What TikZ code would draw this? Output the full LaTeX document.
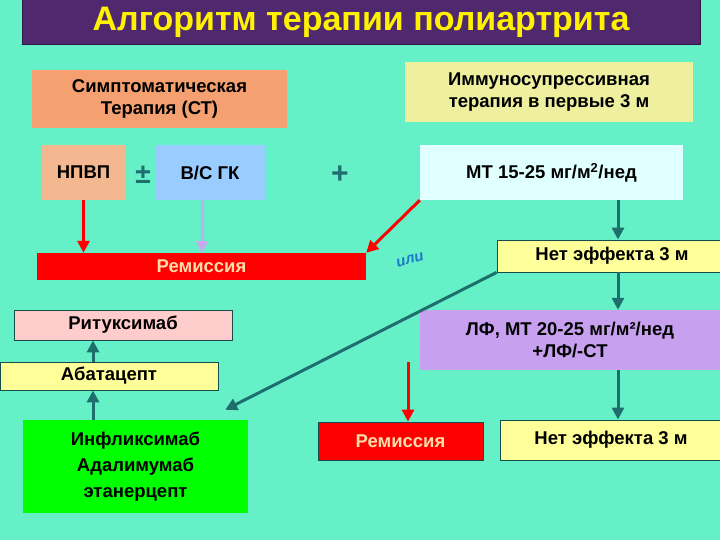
\documentclass[tikz,border=0pt]{standalone}
\usepackage{fontspec}
\setmainfont{Liberation Sans}
\usetikzlibrary{calc,arrows.meta}
\definecolor{bg}{RGB}{102,240,200}
\definecolor{teal}{RGB}{30,110,110}
\definecolor{ttl}{RGB}{80,40,110}
\definecolor{lav}{RGB}{200,170,240}
\tikzset{
 bx/.style={inner sep=0pt,align=center,font=\bfseries\fontsize{18.5}{22}\selectfont},
 ln/.style={bx,draw=teal!70!black,line width=0.8pt},
 ar/.style={line width=3pt,-{Triangle[length=12pt,width=12pt]}},
}
\begin{document}
\begin{tikzpicture}[x=1pt,y=-1pt]
\fill[bg] (0,0) rectangle (720,540);
\useasboundingbox (0,0) rectangle (720,540);
\node[bx,fill=ttl,draw=ttl!60!black,minimum width=678,minimum height=45,text=yellow,font=\bfseries\fontsize{34}{38}\selectfont] (title) at (361,22) {Алгоритм терапии полиартрита};
\node[bx,fill={rgb,255:red,244;green,160;blue,112},minimum width=255,minimum height=58] (st) at (159.5,99) {Симптоматическая\\Терапия (СТ)};
\node[bx,fill={rgb,255:red,238;green,240;blue,160},minimum width=288,minimum height=60] (imm) at (549,92) {Иммуносупрессивная\\терапия в первые 3 м};
\node[bx,fill={rgb,255:red,244;green,184;blue,144},minimum width=83,minimum height=55] (npvp) at (83.5,172.5) {НПВП};
\node[bx,text=teal,font=\bfseries\fontsize{28}{30}\selectfont] (pm) at (143,175) {±};
\node[bx,fill={rgb,255:red,153;green,204;blue,255},minimum width=110,minimum height=55] (gk) at (210,172.5) {В/С ГК};
\node[bx,text=teal,font=\bfseries\fontsize{30}{30}\selectfont] (plus) at (340,175) {+};
\node[bx,fill={rgb,255:red,224;green,255;blue,255},minimum width=263,minimum height=55] (mt) at (551.5,172.5) {МТ 15-25 мг/м\textsuperscript{2}/нед};
\node[bx,fill=red,text={rgb,255:red,255;green,220;blue,170},minimum width=329,minimum height=27] (rem1) at (201.5,266.5) {Ремиссия};
\node[bx,text={rgb,255:red,30;green,120;blue,200},rotate=15,font=\bfseries\itshape\fontsize{15}{16}\selectfont] (ili) at (410,260) {или};
\node[ln,fill={rgb,255:red,255;green,255;blue,153},minimum width=230,minimum height=32] (net1) at (612,256) {Нет эффекта 3 м};
\node[ln,fill={rgb,255:red,255;green,204;blue,204},minimum width=218,minimum height=30] (rit) at (123,325) {Ритуксимаб};
\node[bx,fill={rgb,255:red,200;green,160;blue,240},minimum width=300,minimum height=60] (lf) at (570,340) {ЛФ, МТ 20-25 мг/м²/нед\\+ЛФ/-СТ};
\node[ln,fill={rgb,255:red,255;green,255;blue,153},minimum width=218,minimum height=28] (aba) at (109,376) {Абатацепт};
\node[bx,fill={rgb,255:red,0;green,255;blue,0},minimum width=225,minimum height=93,font=\bfseries\fontsize{18.5}{26}\selectfont] (inf) at (135.5,466.5) {Инфликсимаб\\Адалимумаб\\этанерцепт};
\node[ln,fill=red,text={rgb,255:red,255;green,220;blue,170},minimum width=165,minimum height=38] (rem2) at (400.5,441) {Ремиссия};
\node[ln,fill={rgb,255:red,255;green,255;blue,153},minimum width=222,minimum height=40] (net2) at (611,440) {Нет эффекта 3 м};
\draw[ar,red] (npvp.south) -- (npvp.south |- rem1.north);
\draw[ar,lav] (gk.south -| 202,0) -- (202,253);
\draw[ar,red] (mt.south west) -- (rem1.north east);
\draw[ar,teal] (mt.south -| 618,0) -- (net1.north -| 618,0);
\draw[ar,teal] (net1.south west) -- ($(inf.north east)+(-23,-10)$);
\draw[ar,teal] (net1.south -| 618,0) -- (lf.north -| 618,0);
\draw[ar,teal] (lf.south -| 618,0) -- (net2.north -| 618,0);
\draw[ar,red] (408,362) -- (rem2.north -| 408,0);
\draw[ar,teal] (inf.north -| 93,0) -- (aba.south -| 93,0);
\draw[ar,teal] (aba.north -| 93,0) -- (rit.south -| 93,0);
\end{tikzpicture}
\end{document}
